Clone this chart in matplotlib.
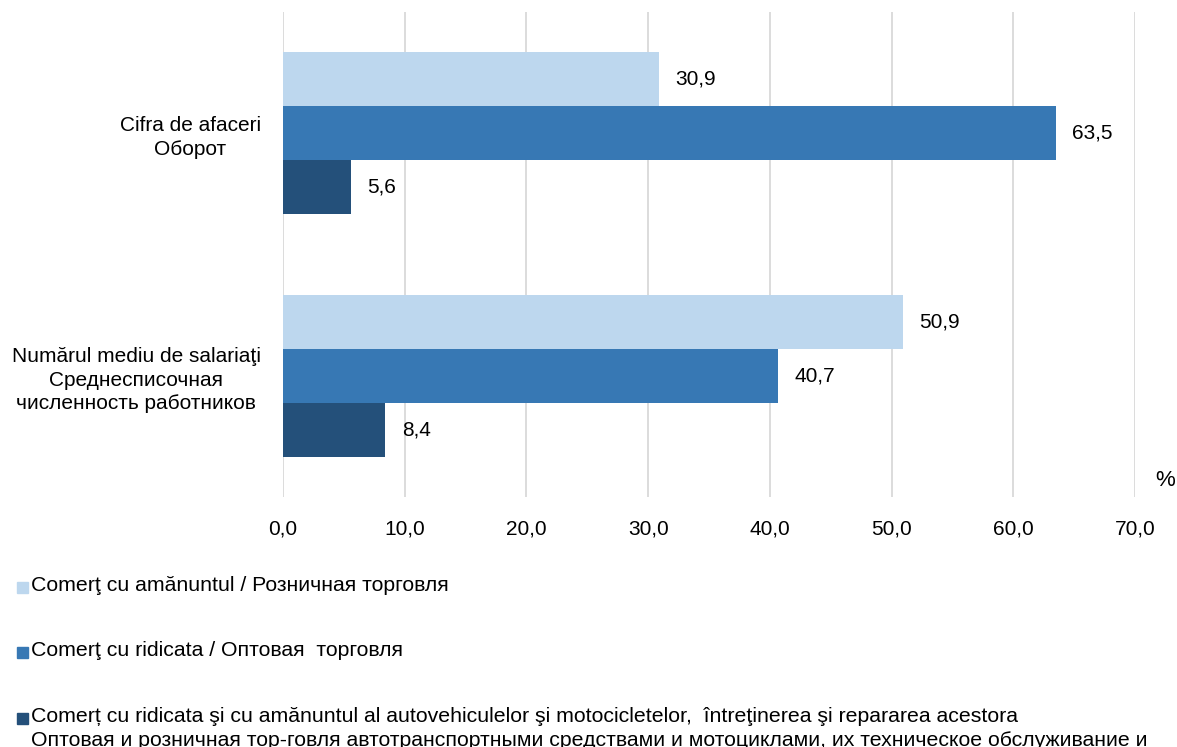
import matplotlib.pyplot as plt
from matplotlib.patches import Rectangle
import numpy as np

plt.rcParams['font.family'] = ['Liberation Sans', 'DejaVu Sans']

categorii = ["Cifra de afaceri\nОборот",
             "Numărul mediu de salariaţi\nСреднесписочная\nчисленность работников"]
amanuntul = [30.9, 50.9]
ridicata = [63.5, 40.7]
auto_moto = [5.6, 8.4]
serii = [amanuntul, ridicata, auto_moto]

legenda = ["Comerţ cu amănuntul / Розничная торговля",
           "Comerţ cu ridicata / Оптовая  торговля",
           "Comerț cu ridicata şi cu amănuntul al autovehiculelor şi motocicletelor,  întreţinerea şi repararea acestora\n"
           "Оптовая и розничная тор-говля автотранспортными средствами и мотоциклами, их техническое обслуживание и"]
culori = ['#BDD7EE', '#3778B4', '#24507A']

fig = plt.figure(figsize=(11.77, 7.47), dpi=100)
ax = fig.add_axes([283 / 1177, 1 - 497 / 747, (1135 - 283) / 1177, 485 / 747])

y = np.arange(len(categorii))
h = 0.222
for i, (vals, cul) in enumerate(zip(serii, culori)):
    pos = y + (i - 1) * h
    ax.barh(pos, vals, height=h, color=cul, zorder=3)
    for p, v in zip(pos, vals):
        ax.text(v + 1.35, p, f"{v:.1f}".replace('.', ','), va='center', ha='left',
                fontsize=15, zorder=4)

ax.set_xlim(0, 70)
ax.set_ylim(-0.5, 1.5)
ax.invert_yaxis()
ax.set_xticks(np.arange(0, 71, 10))
ax.set_xticklabels([f"{t:.1f}".replace('.', ',') for t in np.arange(0, 71, 10)], fontsize=15)
ax.set_yticks(y)
ax.set_yticklabels(categorii, fontsize=15, multialignment='center', linespacing=1.3)
ax.tick_params(axis='y', length=0, pad=16)
ax.tick_params(axis='x', length=0, pad=16)
ax.grid(axis='x', color='#D9D9D9', linewidth=1.3, zorder=0)
for s in ax.spines.values():
    s.set_visible(False)

fig.text(1165 / 1177, 1 - 481 / 747, "%", fontsize=16, ha='center', va='center')

leg_y = [587, 652, 718]
for lab, cul, ly in zip(legenda, culori, leg_y):
    fig.patches.append(Rectangle((17 / 1177, 1 - (ly + 6) / 747), 11 / 1177, 11 / 747,
                                 transform=fig.transFigure, color=cul))
    fig.text(31 / 1177, 1 - (ly - 11) / 747, lab, fontsize=15.3, ha='left', va='top',
             linespacing=1.3)

fig.savefig("out.png", dpi=100)
